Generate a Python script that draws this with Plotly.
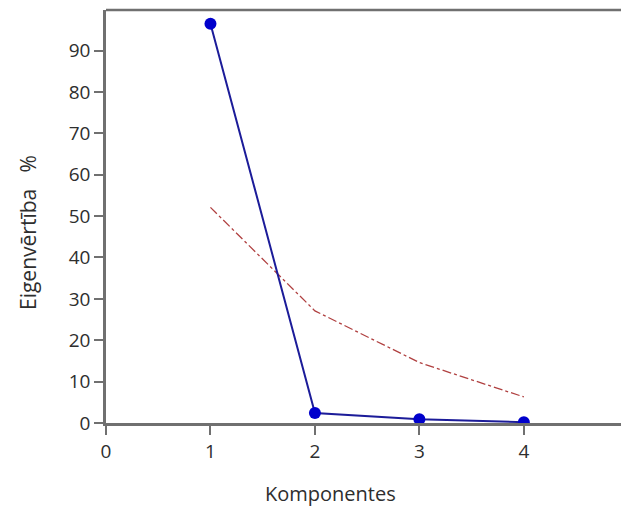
import plotly.graph_objects as go

components = [1, 2, 3, 4]
eigen_pct = [96.5, 2.4, 0.9, 0.2]
broken_stick = [52.1, 27.1, 14.6, 6.3]
y_ticks = [0, 10, 20, 30, 40, 50, 60, 70, 80, 90]
x_ticks = [0, 1, 2, 3, 4]

W, H = 621, 509
ML, MT, MB, MR = 106, 10, 86, 0
FONT = "Open Sans"
TXT = "#2e2e2e"
AX = "#707070"

fig = go.Figure()
fig.add_trace(go.Scatter(
    x=components, y=broken_stick, mode="lines",
    line=dict(color="#b04040", width=1.3, dash="dashdot"),
    showlegend=False, hoverinfo="skip"))
fig.add_trace(go.Scatter(
    x=components, y=eigen_pct, mode="lines+markers",
    line=dict(color="#1c1c99", width=2),
    marker=dict(color="#0000cc", size=12),
    showlegend=False))

fig.update_layout(
    width=W, height=H,
    margin=dict(l=ML, r=MR, t=MT, b=MB),
    paper_bgcolor="white", plot_bgcolor="white",
    font=dict(family=FONT, size=20, color=TXT),
    xaxis=dict(range=[0, 4.93], tickvals=x_ticks, showgrid=False, zeroline=False,
               showline=True, linecolor=AX, linewidth=2.5,
               ticks="outside", ticklen=9, tickwidth=1.5, tickcolor=AX,
               tickfont=dict(size=19, color=TXT)),
    yaxis=dict(range=[0, 99.8], tickvals=y_ticks, showgrid=False, zeroline=False,
               showline=True, linecolor=AX, linewidth=2.5,
               ticks="outside", ticklen=9, tickwidth=1.5, tickcolor=AX,
               tickfont=dict(size=19, color=TXT)),
    shapes=[dict(type="line", xref="paper", yref="paper", x0=0, x1=1, y0=1, y1=1,
                 line=dict(color=AX, width=2.5))],
    annotations=[
        dict(text="Komponentes", xref="paper", yref="paper",
             x=(330 - ML) / (W - ML - MR), y=-(493 - (H - MB)) / (H - MT - MB),
             showarrow=False, xanchor="center", yanchor="middle",
             font=dict(size=20, color=TXT)),
        dict(text="Eigenvērtība\u00a0\u00a0\u00a0%", xref="paper", yref="paper",
             x=-(ML - 28) / (W - ML - MR), y=((H - MB) - 233) / (H - MT - MB),
             showarrow=False, textangle=-90, xanchor="center", yanchor="middle",
             font=dict(size=21, color=TXT)),
    ],
)

fig.write_html("out.html")
